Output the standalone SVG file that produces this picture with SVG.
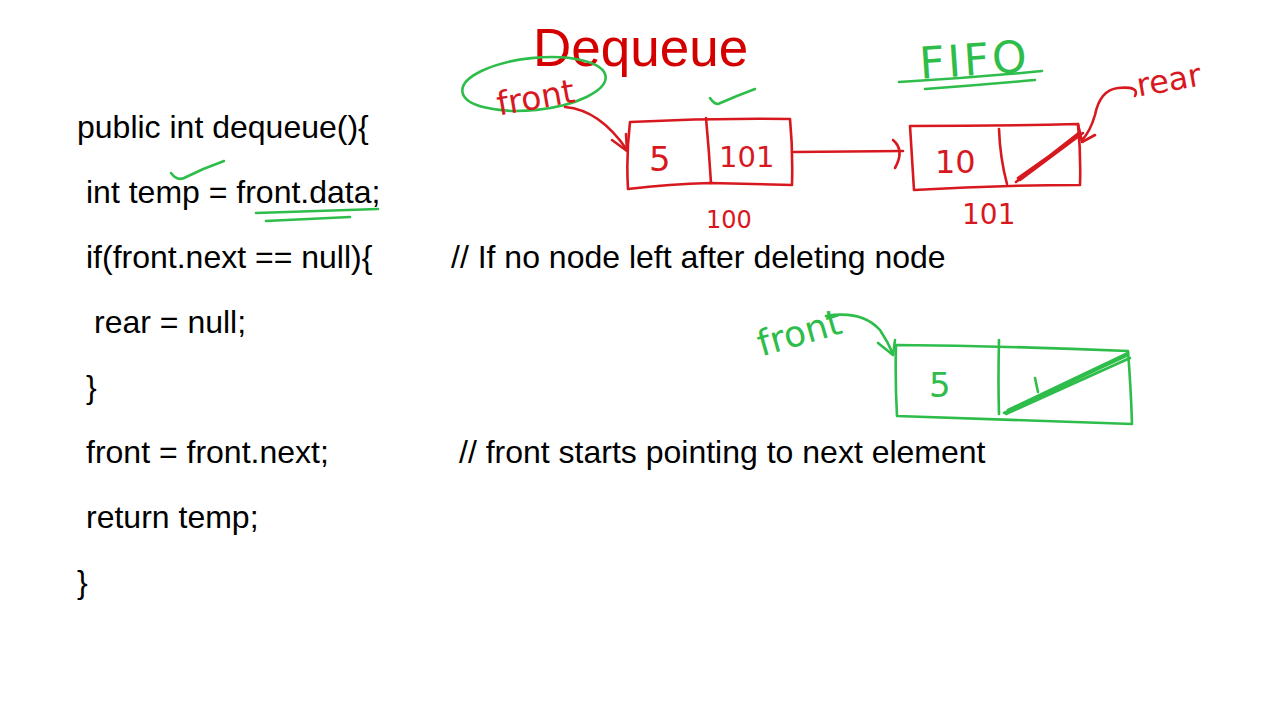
<svg xmlns="http://www.w3.org/2000/svg" width="1280" height="720" viewBox="0 0 1280 720">
<style>
.code{font-family:"Liberation Sans",Arial,sans-serif;font-size:32px;fill:#000}
.title{font-family:"Liberation Sans",Arial,sans-serif;font-size:53px;fill:#d40000}
.hr{font-family:"DejaVu Sans","Liberation Sans",sans-serif;fill:#d7191f}
.hg{font-family:"DejaVu Sans","Liberation Sans",sans-serif;fill:#2ebd4a}
.sr{fill:none;stroke:#d7191f;stroke-width:2.6;stroke-linecap:round;stroke-linejoin:round}
.sg{fill:none;stroke:#2ebd4a;stroke-width:2.6;stroke-linecap:round;stroke-linejoin:round}
</style>
<rect width="1280" height="720" fill="#fff"/>
<g id="code">
<text class="code" x="77" y="138">public int dequeue(){</text>
<text class="code" x="86" y="203">int temp = front.data;</text>
<text class="code" x="86" y="268">if(front.next == null){</text>
<text class="code" x="451" y="268">// If no node left after deleting node</text>
<text class="code" x="94" y="333">rear = null;</text>
<text class="code" x="86" y="398">}</text>
<text class="code" x="86" y="463">front = front.next;</text>
<text class="code" x="459" y="463">// front starts pointing to next element</text>
<text class="code" x="86" y="528">return temp;</text>
<text class="code" x="77" y="593">}</text>
</g>
<g id="title"><text class="title" x="533" y="66">Dequeue</text></g>
<g id="code-marks">
<path class="sg" d="M171,173 Q177,181 184,178 Q204,168 224,161"/>
<path class="sg" d="M256,213 Q320,211 378,209"/>
<path class="sg" d="M266,221 Q310,219 350,217"/>
</g>
<g id="fifo">
<text class="hg" x="919" y="75" font-size="44" letter-spacing="3" transform="rotate(-4 975 55)">FIFO</text>
<path class="sg" d="M899,82 Q970,78 1042,71"/>
<path class="sg" d="M925,89 Q980,85 1035,80"/>
</g>
<g id="front-label-1">
<ellipse class="sg" cx="534" cy="84" rx="72" ry="26" transform="rotate(-6 534 84)"/>
<text class="hr" x="496" y="108" font-size="33" transform="rotate(-10 540 95)">front</text>
</g>
<g id="node-1">
<path class="sr" d="M630,122 Q710,118 790,119 Q793,150 792,185 L710,183 Q670,184 628,189 Q626,155 630,122 Z"/>
<path class="sr" d="M706,118 Q709,150 711,183"/>
<text class="hr" x="649" y="171" font-size="34">5</text>
<text class="hr" x="719" y="167" font-size="29">101</text>
<text class="hr" x="706" y="228" font-size="24">100</text>
<path class="sg" d="M710,98 Q714,104 718,104 Q736,96 755,89"/>
</g>
<g id="node-2">
<path class="sr" d="M910,126 Q995,126 1078,124 Q1081,155 1080,185 Q995,185 914,190 Q912,158 910,126 Z"/>
<path class="sr" d="M999,129 Q1000,158 1007,184"/>
<text class="hr" x="935" y="173" font-size="32">10</text>
<path class="sr" d="M1016,182 L1080,132 M1020,180 L1083,133 M1018,178 L1076,137"/>
<text class="hr" x="962" y="224" font-size="28">101</text>
<text class="hr" x="1136" y="90" font-size="32" transform="rotate(-10 1175 78)">rear</text>
</g>
<g id="node-3">
<path class="sg" d="M896,345 Q1010,346 1128,351 Q1131,390 1132,424 Q1010,420 897,416 Q895,380 896,345 Z"/>
<path class="sg" d="M999,340 Q998,380 999,414"/>
<text class="hg" x="929" y="397" font-size="34">5</text>
<path class="sg" d="M1035,378 L1038,392"/>
<path class="sg" d="M1004,413 L1126,356 M1008,410 L1128,353 M1006,414 L1130,358"/>
<text class="hg" x="752" y="342" font-size="36" transform="rotate(-16 808 315)">front</text>
</g>
<g id="connectors">
<path class="sr" d="M565,107 Q600,110 627,150"/>
<path class="sr" d="M612,140 L627,151 L626,134"/>
<path class="sr" d="M794,152 L903,151"/>
<path class="sr" d="M893,140 Q905,150 895,168"/>
<path class="sr" d="M1135,96 Q1140,86 1118,88 Q1100,90 1095,115 Q1090,132 1082,140"/>
<path class="sr" d="M1078,124 L1082,142 L1095,135"/>
<path class="sg" d="M826,316 Q862,310 880,330 Q888,342 893,354"/>
<path class="sg" d="M878,343 L893,355 L895,340"/>
</g>
</svg>
